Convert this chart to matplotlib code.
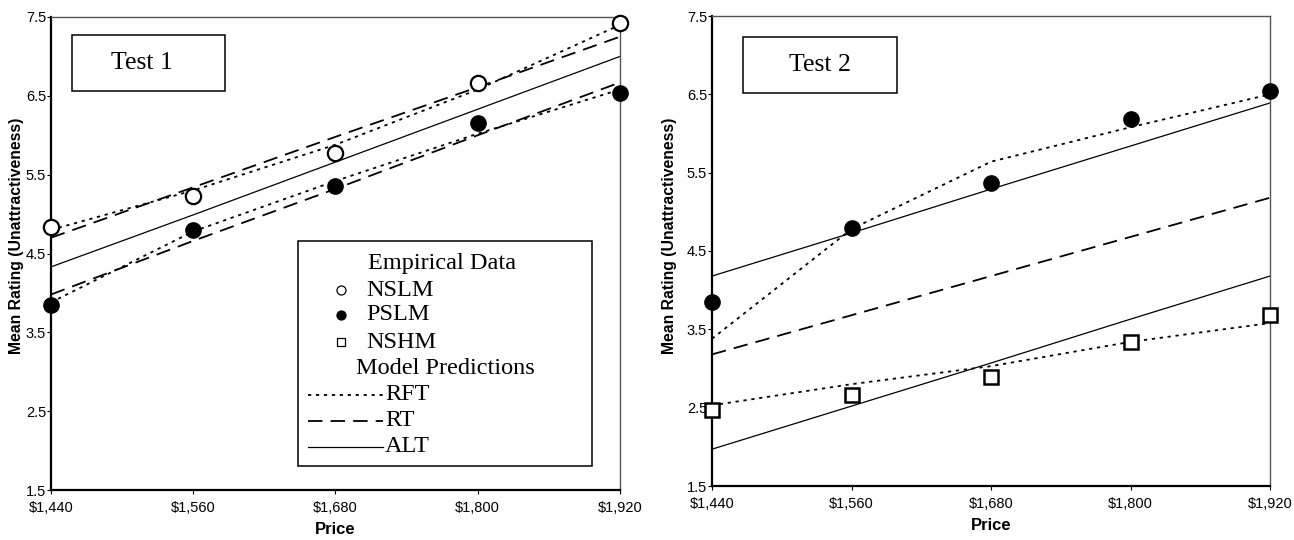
import numpy as np
import matplotlib.pyplot as plt
from matplotlib.lines import Line2D
from matplotlib.patches import Rectangle
from matplotlib.ticker import FuncFormatter

# prices on the x axis
prices = [1440, 1560, 1680, 1800, 1920]

# Test 1 empirical data
t1_nslm = [4.84, 5.23, 5.77, 6.66, 7.42]
t1_pslm = [3.85, 4.80, 5.36, 6.16, 6.53]

# Test 1 model predictions
t1_rft_nslm = [4.80, 5.30, 5.88, 6.58, 7.40]
t1_rft_pslm = [3.88, 4.78, 5.42, 6.02, 6.58]
t1_rt_nslm = [4.70, 5.34, 5.98, 6.61, 7.25]
t1_rt_pslm = [3.98, 4.66, 5.32, 6.00, 6.67]
t1_alt = [4.33, 4.99, 5.66, 6.33, 7.00]

# Test 2 empirical data
t2_pslm = [3.85, 4.79, 5.37, 6.18, 6.54]
t2_nshm = [2.47, 2.66, 2.89, 3.34, 3.68]

# Test 2 model predictions
t2_rft_pslm = [3.38, 4.78, 5.64, 6.08, 6.50]
t2_rft_nshm = [2.53, 2.80, 3.03, 3.34, 3.58]
t2_rt = [3.18, 3.68, 4.18, 4.68, 5.18]
t2_alt_pslm = [4.18, 4.73, 5.29, 5.84, 6.39]
t2_alt_nshm = [1.97, 2.52, 3.07, 3.63, 4.18]

W, H = 1294, 540
serif = ['Liberation Serif', 'DejaVu Serif']
sans = ['Liberation Sans', 'DejaVu Sans']

RFT = dict(color='black', lw=1.3, linestyle=(0, (1.8, 2.6)))
RT = dict(color='black', lw=1.3, linestyle=(0, (8, 4.5)))
ALT = dict(color='black', lw=0.9, linestyle='-')


def P(px, py):
    return px / W, 1 - py / H


def style_axes(ax, ylab_x, ylab_y):
    ax.set_xlim(1440, 1920)
    ax.set_ylim(1.5, 7.5)
    ax.set_xticks(prices)
    ax.set_yticks(np.arange(1.5, 7.6, 1.0))
    ax.xaxis.set_major_formatter(FuncFormatter(lambda v, p: '${:,.0f}'.format(v)))
    ax.yaxis.set_major_formatter(FuncFormatter(lambda v, p: '{:.1f}'.format(v)))
    for lab in ax.get_xticklabels() + ax.get_yticklabels():
        lab.set_family(sans)
        lab.set_fontsize(10.5)
    ax.tick_params(axis='both', direction='out', length=3, width=0.8)
    ax.tick_params(axis='y', pad=0.5)
    ax.tick_params(axis='x', pad=5)
    ax.spines['left'].set_linewidth(1.6)
    ax.spines['bottom'].set_linewidth(1.6)
    ax.spines['top'].set_linewidth(1.0)
    ax.spines['right'].set_linewidth(1.0)
    ax.spines['top'].set_color('#555555')
    ax.spines['right'].set_color('#555555')
    ax.set_xlabel('Price', family=sans, fontweight='bold', fontsize=12)
    ax.xaxis.set_label_coords(0.5, -0.068)
    ax.set_ylabel('Mean Rating (Unattractiveness)', family=sans,
                  fontweight='bold', fontsize=11.3)
    ax.yaxis.set_label_coords(ylab_x, ylab_y)


def test_box(fig, x0, y0, x1, y1, tx, text):
    fx0, fy1 = P(x0, y1)
    fx1, fy0 = P(x1, y0)
    fig.patches.append(Rectangle((fx0, fy1), fx1 - fx0, fy0 - fy1,
                                 transform=fig.transFigure, fill=False,
                                 ec='black', lw=1.1))
    cx, cy = P(tx, (y0 + y1) / 2)
    fig.text(cx, cy, text, family=serif, fontsize=18.5, ha='center', va='center')


fig = plt.figure(figsize=(W / 100, H / 100), dpi=100)

# ---- Test 1 ----
ax1 = fig.add_axes([51 / W, 1 - 490 / H, 569 / W, 473 / H])
ax1.plot(prices, t1_rft_nslm, **RFT)
ax1.plot(prices, t1_rft_pslm, **RFT)
ax1.plot(prices, t1_rt_nslm, **RT)
ax1.plot(prices, t1_rt_pslm, **RT)
ax1.plot(prices, t1_alt, **ALT)
ax1.plot(prices, t1_nslm, 'o', ms=11, mfc='white', mec='black', mew=1.6,
         ls='none', clip_on=False, zorder=5)
ax1.plot(prices, t1_pslm, 'o', ms=11, mfc='black', mec='black',
         ls='none', clip_on=False, zorder=5)
style_axes(ax1, -0.048, 0.537)

# ---- Test 2 ----
ax2 = fig.add_axes([712 / W, 1 - 486 / H, 558 / W, 470 / H])
ax2.plot(prices, t2_rft_pslm, **RFT)
ax2.plot(prices, t2_rft_nshm, **RFT)
ax2.plot(prices, t2_rt, **RT)
ax2.plot(prices, t2_alt_pslm, **ALT)
ax2.plot(prices, t2_alt_nshm, **ALT)
ax2.plot(prices, t2_pslm, 'o', ms=11, mfc='black', mec='black',
         ls='none', clip_on=False, zorder=5)
ax2.plot(prices, t2_nshm, 's', ms=10, mfc='white', mec='black', mew=1.8,
         ls='none', clip_on=False, zorder=5)
style_axes(ax2, -0.063, 0.532)

test_box(fig, 72, 35, 225, 91, 142, 'Test 1')
test_box(fig, 743, 37, 897, 93, 820, 'Test 2')

# ---- legend in Test 1 panel ----
lx0, ly0 = P(298, 466)
lx1, ly1 = P(592, 241)
fig.patches.append(Rectangle((lx0, ly0), lx1 - lx0, ly1 - ly0,
                             transform=fig.transFigure, fc='white',
                             ec='black', lw=1.1, zorder=10))
lfs = 17.5
fig.text(*P(368, 263), 'Empirical Data', family=serif, fontsize=lfs, va='center', zorder=11)
rows = [(290, 'NSLM', 'o', 'white'), (315, 'PSLM', 'o', 'black'), (342, 'NSHM', 's', 'white')]
for y, name, mk, fc in rows:
    fig.lines.append(Line2D([P(341, y)[0]], [P(341, y)[1]], marker=mk,
                            ms=6.5 if mk == 'o' else 6,
                            mfc=fc, mec='black', mew=0.9, ls='none',
                            transform=fig.transFigure, zorder=11))
    fig.text(*P(366, y), name, family=serif, fontsize=lfs, va='center', zorder=11)
fig.text(*P(356, 368), 'Model Predictions', family=serif, fontsize=lfs, va='center', zorder=11)
for y, name, st in [(395, 'RFT', RFT), (421, 'RT', RT), (447, 'ALT', ALT)]:
    xa, ya = P(308, y)
    xb, _ = P(383, y)
    fig.lines.append(Line2D([xa, xb], [ya, ya], transform=fig.transFigure,
                            zorder=11, **st))
    fig.text(*P(385, y), name, family=serif, fontsize=lfs, va='center', zorder=11)

fig.savefig('out.png', dpi=100)
